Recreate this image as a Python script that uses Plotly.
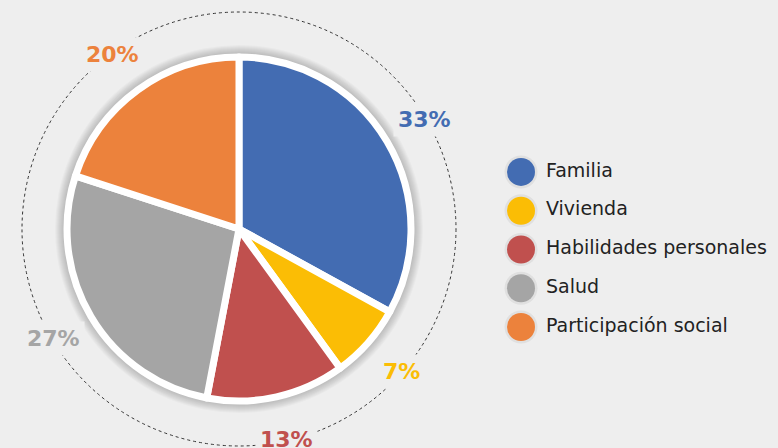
import math
import plotly.graph_objects as go

labels = ["Familia", "Vivienda", "Habilidades personales", "Salud", "Participación social"]
values = [33, 7, 13, 27, 20]
colors = ["#436cb2", "#fbbd05", "#c0504e", "#a5a5a5", "#ec823c"]

W, H = 778, 448
BG = "#eeeeee"
cx, cy = 239, 219          # pie centre, px from left / bottom
r_pie = 172
r_ring = 217
r_label = 216

fig = go.Figure()

fig.add_trace(
    go.Pie(
        labels=labels,
        values=values,
        sort=False,
        direction="clockwise",
        rotation=0,
        marker=dict(colors=colors, line=dict(color="white", width=7)),
        textinfo="none",
        hoverinfo="label+percent",
        showlegend=False,
        domain=dict(
            x=[(cx - r_pie) / W, (cx + r_pie) / W],
            y=[(cy - r_pie) / H, (cy + r_pie) / H],
        ),
    )
)

# legend drawn as big round markers on a hidden axis
rows = list(range(len(labels)))
fig.add_trace(
    go.Scatter(
        x=[21] * len(labels),
        y=rows,
        mode="markers",
        marker=dict(size=33, color="rgba(0,0,0,0.06)"),
        hoverinfo="skip",
        showlegend=False,
    )
)
fig.add_trace(
    go.Scatter(
        x=[21] * len(labels),
        y=rows,
        mode="markers",
        marker=dict(size=28, color=colors),
        hoverinfo="skip",
        showlegend=False,
    )
)
fig.add_trace(
    go.Scatter(
        x=[46] * len(labels),
        y=rows,
        mode="text",
        text=labels,
        textposition="middle right",
        textfont=dict(family="DejaVu Sans", size=19, color="#222222"),
        hoverinfo="skip",
        showlegend=False,
    )
)

# soft shadow behind the pie
shapes = []
for k in range(1, 11):
    rr = r_pie + 2 + k
    shapes.append(
        dict(
            type="circle", xref="paper", yref="paper", layer="below",
            x0=(cx - rr) / W, x1=(cx + rr) / W, y0=(cy - rr) / H, y1=(cy + rr) / H,
            line=dict(width=0), fillcolor="rgba(0,0,0,0.025)",
        )
    )
shapes.append(
    dict(
        type="circle", xref="paper", yref="paper", layer="below",
        x0=(cx - r_ring) / W, x1=(cx + r_ring) / W, y0=(cy - r_ring) / H, y1=(cy + r_ring) / H,
        line=dict(color="#333333", width=1, dash="dot"),
    )
)

# percentage labels sitting on the dotted ring
annotations = []
total = sum(values)
start = 0.0
for v, c in zip(values, colors):
    mid = math.radians((start + v / 2) / total * 360)
    start += v
    annotations.append(
        dict(
            x=(cx + r_label * math.sin(mid)) / W,
            y=(cy + r_label * math.cos(mid)) / H,
            xref="paper", yref="paper",
            xanchor="center", yanchor="middle",
            text=f"{round(v / total * 100)}%",
            showarrow=False,
            font=dict(family="DejaVu Sans", size=22, color=c, weight="bold"),
            bgcolor=BG,
            borderpad=4,
        )
    )

fig.update_layout(
    width=W,
    height=H,
    paper_bgcolor=BG,
    plot_bgcolor=BG,
    margin=dict(l=0, r=0, t=0, b=0),
    xaxis=dict(domain=[500 / W, 1], range=[0, 278], visible=False, fixedrange=True),
    yaxis=dict(domain=[0.2268, 0.6594], range=[4.5, -0.5], visible=False, fixedrange=True),
    shapes=shapes,
    annotations=annotations,
)

fig.write_html(
    "out.html",
    config={"displayModeBar": False},
    post_script="document.body.style.margin='0';",
)
